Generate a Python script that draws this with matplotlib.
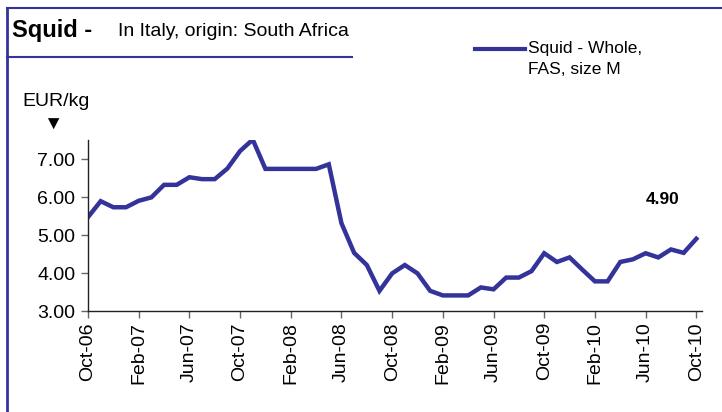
import matplotlib.pyplot as plt
from matplotlib.lines import Line2D
import numpy as np

plt.rcParams['font.family'] = ['Liberation Sans', 'DejaVu Sans']

# monthly prices, Oct-06 .. Oct-10 (EUR/kg)
prices = [5.47, 5.89, 5.73, 5.73, 5.90, 5.99, 6.32, 6.32, 6.52, 6.47,
          6.47, 6.75, 7.21, 7.51, 6.74, 6.74, 6.74, 6.74, 6.74, 6.86,
          5.31, 4.53, 4.21, 3.53, 3.99, 4.21, 3.99, 3.53, 3.41, 3.41,
          3.41, 3.62, 3.57, 3.88, 3.88, 4.05, 4.52, 4.29, 4.41, 4.09,
          3.78, 3.78, 4.29, 4.36, 4.52, 4.41, 4.62, 4.53, 4.90]
tick_labels = ['Oct-06', 'Feb-07', 'Jun-07', 'Oct-07', 'Feb-08', 'Jun-08',
               'Oct-08', 'Feb-09', 'Jun-09', 'Oct-09', 'Feb-10', 'Jun-10',
               'Oct-10']
y_ticks = [3, 4, 5, 6, 7]

line_color = '#333399'
W, H = 722, 412

fig = plt.figure(figsize=(W / 100, H / 100), dpi=100)
fig.patch.set_facecolor('white')

def fx(px):
    return px / W

def fy(py):
    return 1 - py / H

ax = fig.add_axes([fx(88), fy(311), fx(702) - fx(88), fy(140) - fy(311)])
x = np.arange(len(prices))
ax.plot(x, prices, color=line_color, lw=3.2, solid_joinstyle='miter')

ax.set_xlim(0, 48.45)
ax.set_ylim(3, 7.5)
ax.set_xticks(x[::4])
ax.set_xticklabels(tick_labels, rotation=90, fontsize=14)
ax.set_yticks(y_ticks)
ax.set_yticklabels(['%.2f' % v for v in y_ticks], fontsize=14)
for side in ['top', 'right']:
    ax.spines[side].set_visible(False)
for side in ['left', 'bottom']:
    ax.spines[side].set_color('#222222')
    ax.spines[side].set_linewidth(1.0)
ax.tick_params(axis='both', direction='out', length=5, color='#666666', width=1)
ax.tick_params(axis='y', pad=4)
ax.tick_params(axis='x', pad=3)

# value label on last point
fig.text(fx(663), fy(200), '4.90', ha='center', va='center',
         fontsize=12.5, fontweight='bold')

# frame lines
fig.add_artist(Line2D([fx(7), fx(7)], [fy(8), fy(412)], color=line_color, lw=2))
fig.add_artist(Line2D([fx(7), fx(722)], [fy(8), fy(8)], color=line_color, lw=1.5))
fig.add_artist(Line2D([fx(7), fx(352)], [fy(57), fy(57)], color=line_color, lw=1.5))

# titles
fig.text(fx(12), fy(31), 'Squid -', fontsize=17, fontweight='bold',
         ha='left', va='center')
fig.text(fx(118), fy(31), 'In Italy, origin: South Africa', fontsize=14,
         ha='left', va='center')

# legend
fig.add_artist(Line2D([fx(475), fx(525)], [fy(49), fy(49)], color=line_color, lw=3))
fig.text(fx(528), fy(48), 'Squid - Whole,', fontsize=12.5, ha='left', va='center')
fig.text(fx(528), fy(70), 'FAS, size M', fontsize=12.5, ha='left', va='center')

# unit label
fig.text(fx(22), fy(101), 'EUR/kg', fontsize=14, ha='left', va='center')
fig.text(fx(53), fy(125), '\u25BC', fontsize=14, ha='center', va='center')

fig.savefig('out.png', dpi=100, facecolor='white')
